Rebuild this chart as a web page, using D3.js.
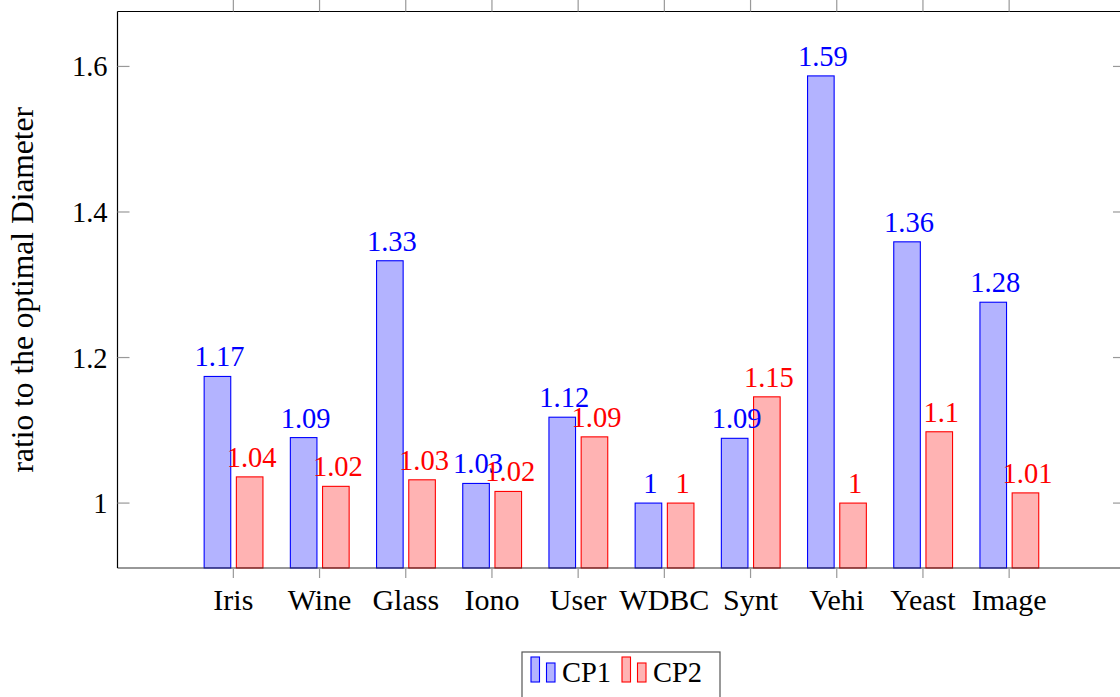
<!DOCTYPE html>
<html>
<head>
<meta charset="utf-8">
<script src="https://d3js.org/d3.v7.min.js"></script>
<style>
  body { margin: 0; background: #fff; }
  svg text { font-family: "Liberation Serif", "Times New Roman", serif; }
</style>
</head>
<body>
<svg id="drawing_region"></svg>
<script>
// data
const categories = ["Iris", "Wine", "Glass", "Iono", "User", "WDBC", "Synt", "Vehi", "Yeast", "Image"];
const seriesNames = ["CP1", "CP2"];
const cp1 = [1.174, 1.090, 1.333, 1.027, 1.118, 1.0, 1.089, 1.587, 1.359, 1.276];
const cp2 = [1.036, 1.023, 1.032, 1.016, 1.091, 1.0, 1.146, 1.0, 1.098, 1.014];
const yTicks = [1, 1.2, 1.4, 1.6];
const yDomain = [0.9108, 1.6755];
const yLabel = "ratio to the optimal Diameter";

const colors = {
    CP1: {fill: "#b3b3ff", stroke: "#0000ff"},
    CP2: {fill: "#ffb3b3", stroke: "#ff0000"}
};

class BarChart {

    constructor( config ) {
        this.config = config;
        this.init();
    }

    init() {
        let self = this;

        self.svg = d3.select( self.config.parent )
            .attr('width', self.config.width)
            .attr('height', self.config.height);

        self.left = self.config.margin.left;
        self.right = self.config.margin.right;
        self.top = self.config.margin.top;
        self.bottom = self.config.margin.bottom;

        self.xscale = d3.scalePoint()
            .domain( categories )
            .range( [self.left, self.right] )
            .padding( 1.344 );

        self.subscale = d3.scaleBand()
            .domain( seriesNames )
            .range( [-29.2, 29.6] )
            .paddingInner( 0.1745 );

        self.yscale = d3.scaleLinear()
            .domain( yDomain )
            .range( [self.bottom, self.top] );
    }

    render() {
        let self = this;
        const fmt = v => String(+v.toFixed(2));
        const numSize = 28.5, wordSize = 30;

        const rows = categories.map( (c, i) => ({cat: c, CP1: cp1[i], CP2: cp2[i]}) );

        // bars
        seriesNames.forEach( s => {
            const g = self.svg.append('g');
            g.selectAll('rect')
                .data( rows )
                .join('rect')
                .attr('x', d => self.xscale(d.cat) + self.subscale(s))
                .attr('y', d => self.yscale(d[s]))
                .attr('width', self.subscale.bandwidth())
                .attr('height', d => self.bottom - self.yscale(d[s]))
                .attr('fill', colors[s].fill)
                .attr('stroke', colors[s].stroke)
                .attr('stroke-width', 1.1);
        });

        // value labels
        seriesNames.forEach( s => {
            self.svg.append('g').selectAll('text')
                .data( rows )
                .join('text')
                .attr('x', d => self.xscale(d.cat) + self.subscale(s) + self.subscale.bandwidth()/2 + 2)
                .attr('y', d => self.yscale(d[s]) - 10)
                .attr('text-anchor', 'middle')
                .attr('font-size', numSize)
                .attr('fill', colors[s].stroke)
                .text( d => fmt(d[s]) );
        });

        // frame
        const frame = self.svg.append('g')
            .attr('fill', 'none');
        frame.append('line')
            .attr('x1', self.left).attr('x2', self.right)
            .attr('y1', self.top).attr('y2', self.top)
            .attr('stroke', '#000').attr('stroke-width', 1.2);
        frame.append('line')
            .attr('x1', self.left).attr('x2', self.right)
            .attr('y1', self.bottom).attr('y2', self.bottom)
            .attr('stroke', '#333').attr('stroke-width', 1.2);
        frame.append('line')
            .attr('x1', self.left).attr('x2', self.left)
            .attr('y1', self.top).attr('y2', self.bottom)
            .attr('stroke', '#000').attr('stroke-width', 1.2);
        frame.append('line')
            .attr('x1', self.right).attr('x2', self.right)
            .attr('y1', self.top).attr('y2', self.bottom)
            .attr('stroke', '#000').attr('stroke-width', 1.2);

        // x ticks (outward, top and bottom)
        const xt = self.svg.append('g').attr('stroke', '#999').attr('stroke-width', 1.2);
        xt.selectAll('.b').data( categories ).join('line')
            .attr('x1', d => self.xscale(d)).attr('x2', d => self.xscale(d))
            .attr('y1', self.bottom).attr('y2', self.bottom + 10);
        xt.selectAll('.t').data( categories ).join('line')
            .attr('x1', d => self.xscale(d)).attr('x2', d => self.xscale(d))
            .attr('y1', self.top).attr('y2', self.top - 12);

        self.svg.append('g').selectAll('text')
            .data( categories )
            .join('text')
            .attr('x', d => self.xscale(d))
            .attr('y', self.bottom + 42)
            .attr('text-anchor', 'middle')
            .attr('font-size', wordSize)
            .attr('fill', '#000')
            .text( d => d );

        // y ticks (inward, left and right)
        const yt = self.svg.append('g').attr('stroke', '#999').attr('stroke-width', 1.2);
        yt.selectAll('.l').data( yTicks ).join('line')
            .attr('x1', self.left).attr('x2', self.left + 12)
            .attr('y1', d => self.yscale(d)).attr('y2', d => self.yscale(d));
        yt.selectAll('.r').data( yTicks ).join('line')
            .attr('x1', self.right - 12).attr('x2', self.right)
            .attr('y1', d => self.yscale(d)).attr('y2', d => self.yscale(d));

        self.svg.append('g').selectAll('text')
            .data( yTicks )
            .join('text')
            .attr('x', self.left - 10)
            .attr('y', d => self.yscale(d) + 10)
            .attr('text-anchor', 'end')
            .attr('font-size', numSize)
            .attr('fill', '#000')
            .text( d => d3.format('~g')(d) );

        // y axis title
        self.svg.append('text')
            .attr('transform', `translate(33, ${(self.top + self.bottom)/2}) rotate(-90)`)
            .attr('text-anchor', 'middle')
            .attr('font-size', 31.5)
            .attr('fill', '#000')
            .text( yLabel );

        // legend
        const lg = self.svg.append('g');
        lg.append('rect')
            .attr('x', 522).attr('y', 652)
            .attr('width', 198).attr('height', 52)
            .attr('fill', '#fff').attr('stroke', '#555').attr('stroke-width', 1.2);
        const lx = [531, 622];
        seriesNames.forEach( (s, i) => {
            const x0 = lx[i];
            lg.append('rect')
                .attr('x', x0).attr('y', 657).attr('width', 8.5).attr('height', 25)
                .attr('fill', colors[s].fill).attr('stroke', colors[s].stroke).attr('stroke-width', 1.1);
            lg.append('rect')
                .attr('x', x0 + 15.5).attr('y', 663).attr('width', 8.5).attr('height', 19)
                .attr('fill', colors[s].fill).attr('stroke', colors[s].stroke).attr('stroke-width', 1.1);
            lg.append('text')
                .attr('x', x0 + 31).attr('y', 682)
                .attr('font-size', numSize)
                .attr('fill', '#000')
                .text( s );
        });
    }
}

const chart = new BarChart({
    parent: '#drawing_region',
    width: 1120,
    height: 697,
    margin: {top: 11.5, right: 1125, bottom: 568, left: 117.5}
});
chart.render();
</script>
</body>
</html>
